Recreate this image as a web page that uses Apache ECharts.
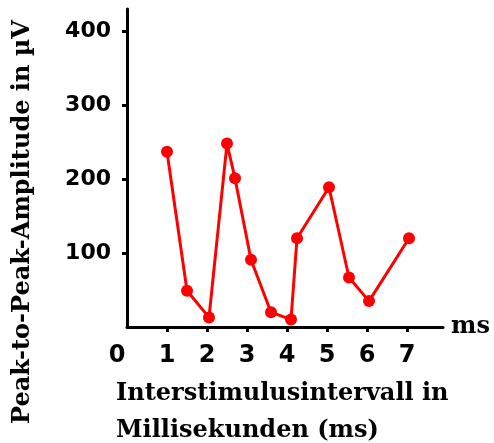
<!DOCTYPE html>
<html>
<head>
<meta charset="utf-8">
<script src="https://cdn.jsdelivr.net/npm/echarts@6/dist/echarts.min.js"></script>
<style>
  html, body { margin: 0; padding: 0; background: #fff; }
  #chart { width: 494px; height: 443px; }
</style>
</head>
<body>
<div id="chart"></div>
<script>
// Interstimulus interval (ms) and peak-to-peak amplitude (µV)
const intervalsMs = [1.0, 1.5, 2.05, 2.5, 2.7, 3.1, 3.6, 4.1, 4.25, 5.05, 5.55, 6.05, 7.05];
const amplitudes = [237, 49, 13, 248, 201, 91, 20, 10, 120, 189, 67, 35, 120];
const xTickLabels = [0, 1, 2, 3, 4, 5, 6, 7];
const yTickLabels = [100, 200, 300, 400];

const xTitleLines = ['Interstimulusintervall in', 'Millisekunden (ms)'];
const yTitle = 'Peak-to-Peak-Amplitude in \u00b5V';

const chart = echarts.init(document.getElementById('chart'), null, { renderer: 'canvas' });

const yTickFont = { fontFamily: 'DejaVu Sans', fontWeight: 'bold', fontSize: 22, color: '#000' };
const xTickFont = { fontFamily: 'DejaVu Sans', fontWeight: 'bold', fontSize: 24, color: '#000' };
const titleFont = { fontFamily: 'DejaVu Serif', fontWeight: 'bold', fontSize: 24, fill: '#000' };

chart.setOption({
  backgroundColor: '#fff',
  animation: false,
  grid: { left: 127, top: 9, right: 51, bottom: 116, containLabel: false },
  xAxis: {
    type: 'value',
    min: 0,
    max: 7.9,
    name: 'ms',
    nameLocation: 'end',
    nameGap: 8,
    nameTextStyle: { fontFamily: 'DejaVu Serif', fontWeight: 'bold', fontSize: 24, color: '#000', verticalAlign: 'middle' },
    splitLine: { show: false },
    axisLine: { show: true, lineStyle: { color: '#000', width: 3 } },
    axisTick: { show: true, length: 5, lineStyle: { color: '#000', width: 3 }, customValues: xTickLabels.slice(1) },
    axisLabel: Object.assign({}, xTickFont, {
      margin: 17,
      customValues: xTickLabels,
      formatter: v => (v === 0 ? '{z|0}' : String(v)),
      rich: { z: Object.assign({}, xTickFont, { padding: [0, 20, 0, 0] }) }
    })
  },
  yAxis: {
    type: 'value',
    min: 0,
    max: 430,
    splitLine: { show: false },
    axisLine: { show: true, lineStyle: { color: '#000', width: 3 } },
    axisTick: { show: true, length: 5, lineStyle: { color: '#000', width: 3 }, customValues: yTickLabels },
    axisLabel: Object.assign({}, yTickFont, { margin: 16, customValues: yTickLabels })
  },
  series: [{
    type: 'line',
    data: intervalsMs.map((x, i) => [x, amplitudes[i]]),
    symbol: 'circle',
    symbolSize: 12,
    lineStyle: { color: '#ff0000', width: 3 },
    itemStyle: { color: '#ff0000' },
    z: 3
  }],
  graphic: [
    {
      type: 'text', left: 116, top: 382,
      style: Object.assign({ text: xTitleLines[0] }, titleFont)
    },
    {
      type: 'text', left: 116, top: 419,
      style: Object.assign({ text: xTitleLines[1] }, titleFont)
    },
    {
      type: 'text', x: 23, y: 222, rotation: Math.PI / 2,
      style: Object.assign({ text: yTitle, align: 'center', verticalAlign: 'middle' }, titleFont)
    }
  ]
});
</script>
</body>
</html>
